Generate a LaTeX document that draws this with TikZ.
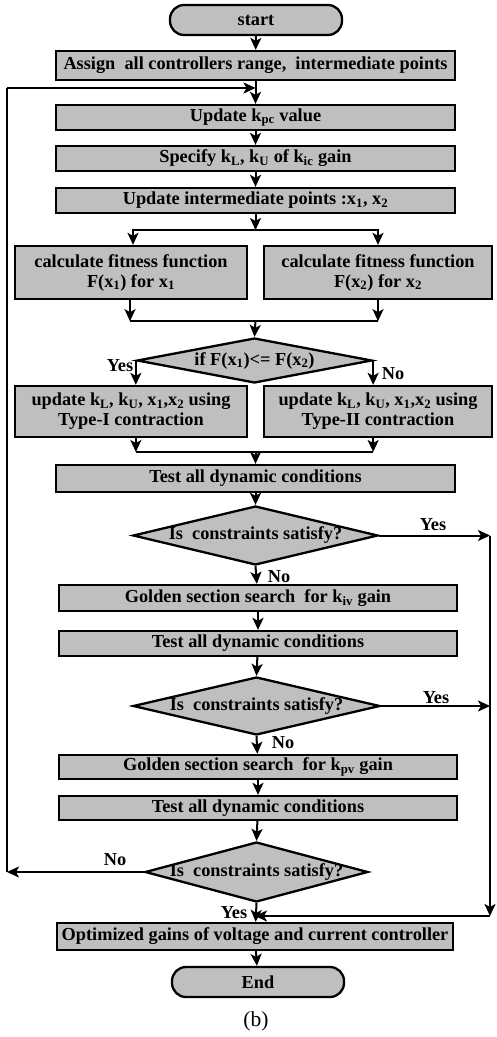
\documentclass[tikz,border=0pt]{standalone}
\usepackage{fontspec}
\setmainfont{Liberation Serif}
\usetikzlibrary{shapes.geometric,arrows.meta}
\begin{document}
\begin{tikzpicture}[x=1pt,y=-1pt,
  every node/.style={font=\fontsize{18.3}{20}\selectfont\bfseries},
  box/.style={draw,line width=2.3pt,fill=black!25,rectangle,inner sep=0pt,align=center},
  term/.style={box,rounded corners=14pt},
  dia/.style={draw,line width=2.3pt,fill=black!25,diamond,inner sep=0pt},
  arr/.style={line width=2pt,-{Stealth[length=12pt,width=11pt,inset=3pt]}},
  ln/.style={line width=2pt},
  lbl/.style={inner sep=0pt}]
\useasboundingbox (0,0) rectangle (496,1037);
\node[term,minimum width=172,minimum height=30] (start) at (256,20) {start};
\node[box,minimum width=399,minimum height=29] (assign) at (255.5,65.5) {Assign\ \ all controllers range,\ \ intermediate points};
\node[box,minimum width=399,minimum height=25] (kpc) at (255.5,117.5) {Update k\textsubscript{pc} value};
\node[box,minimum width=399,minimum height=25] (spec) at (255.5,158.5) {Specify k\textsubscript{L}, k\textsubscript{U} of k\textsubscript{ic} gain};
\node[box,minimum width=399,minimum height=25] (inter) at (255.5,200.5) {Update intermediate points :x\textsubscript{1}, x\textsubscript{2}};
\node[box,minimum width=232,minimum height=53] (fit1) at (131,272.5) {calculate fitness function\\F(x\textsubscript{1}) for x\textsubscript{1}};
\node[box,minimum width=228,minimum height=53] (fit2) at (378,272.5) {calculate fitness function\\F(x\textsubscript{2}) for x\textsubscript{2}};
\node[dia,minimum width=235,minimum height=45,label={center:if F(x\textsubscript{1})<= F(x\textsubscript{2})}] (d1) at (254.5,360.5) {};
\node[box,minimum width=232,minimum height=51] (up1) at (131,411.5) {update k\textsubscript{L}, k\textsubscript{U}, x\textsubscript{1},x\textsubscript{2} using\\Type-I contraction};
\node[box,minimum width=228,minimum height=51] (up2) at (378,411.5) {update k\textsubscript{L}, k\textsubscript{U}, x\textsubscript{1},x\textsubscript{2} using\\Type-II contraction};
\node[box,minimum width=399,minimum height=27] (test1) at (255.5,478.5) {Test all dynamic conditions};
\node[dia,minimum width=245,minimum height=59,label={center:Is\ \ constraints satisfy?}] (d2) at (255.5,535.5) {};
\node[box,minimum width=398,minimum height=26] (gold1) at (258,598) {Golden section search\ \ for k\textsubscript{iv} gain};
\node[box,minimum width=398,minimum height=25] (test2) at (258,643.5) {Test all dynamic conditions};
\node[dia,minimum width=247,minimum height=58,label={center:Is\ \ constraints satisfy?}] (d3) at (256.5,706) {};
\node[box,minimum width=398,minimum height=24] (gold2) at (258,767) {Golden section search\ \ for k\textsubscript{pv} gain};
\node[box,minimum width=398,minimum height=24] (test3) at (258,808) {Test all dynamic conditions};
\node[dia,minimum width=223,minimum height=60,label={center:Is\ \ constraints satisfy?}] (d4) at (256.5,872) {};
\node[box,minimum width=396,minimum height=27] (opt) at (255,936.5) {Optimized gains of voltage and current controller};
\node[term,minimum width=172,minimum height=30] (end) at (258,982) {End};
\node[font=\fontsize{21.5}{24}\selectfont] (cap) at (256,1021) {(b)};
% labels
\node[lbl] (y1) at (120,366) {Yes};
\node[lbl] (n1) at (393,374) {No};
\node[lbl] (y2) at (433,525) {Yes};
\node[lbl] (n2) at (279,577) {No};
\node[lbl] (y3) at (436,698) {Yes};
\node[lbl] (n3) at (283,743) {No};
\node[lbl] (n4) at (115,860) {No};
\node[lbl] (y4) at (234,913) {Yes};
% coordinates
\coordinate (s1) at (255.5,230);
\coordinate (m1) at (255.5,320);
\coordinate (m2) at (255.5,452);
\coordinate (lp) at (7,88);
\coordinate (lb) at (7,872);
\coordinate (rt) at (490,535.5);
\coordinate (rm) at (490,706);
\coordinate (rb) at (490,916);
\coordinate (jn) at (opt.north |- rb);
\coordinate (lpj) at (assign.south |- lp);
% connectors
\draw[arr] (start) -- (assign);
\draw[arr] (assign) -- (kpc);
\draw[arr] (kpc) -- (spec);
\draw[arr] (spec) -- (inter);
\draw[arr] (inter) -- (s1);
\draw[arr] (s1) -| ([xshift=2pt]fit1.north);
\draw[arr] (s1) -| (fit2.north);
\draw[arr] ([xshift=-1pt]fit1.south) -- ++(0,21) coordinate (f1b);
\draw[arr] (fit2.south) -- ++(0,21) coordinate (f2b);
\draw[ln] (f1b) -- (f2b);
\draw[arr] (m1) -- (d1.north);
\draw[arr] (d1.west) -- (d1.west |- up1.north);
\draw[arr] (d1.east) -- (d1.east |- up2.north);
\draw[arr] (d1.west |- up1.south) -- (d1.west |- m2);
\draw[arr] (d1.east |- up2.south) -- (d1.east |- m2);
\draw[ln] (d1.west |- m2) -- (d1.east |- m2);
\draw[arr] (m2) -- (test1);
\draw[arr] (test1) -- (d2.north);
\draw[arr] (d2.south) -- (gold1);
\draw[arr] (gold1) -- (test2);
\draw[arr] (test2) -- (d3.north);
\draw[arr] (d3.south) -- (gold2);
\draw[arr] (gold2) -- (test3);
\draw[arr] (test3) -- (d4.north);
\draw[arr] (d4.south) -- (opt);
\draw[arr] (opt) -- (end);
\draw[arr] (d2.east) -- (rt);
\draw[arr] (d3.east) -- (rm);
\draw[arr] (rt) -- (rb);
\draw[arr] (rb) -- (jn);
\draw[arr] (d4.west) -- (lb);
\draw[ln] (lb) -- (lp);
\draw[arr] (lp) -- (lpj);
\end{tikzpicture}
\end{document}
